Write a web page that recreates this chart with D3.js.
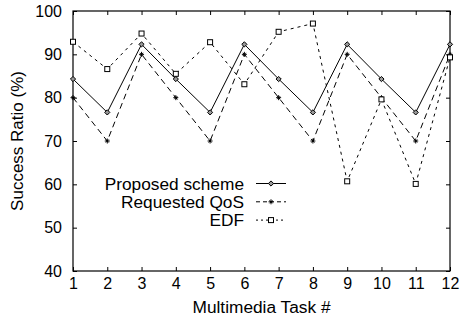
<!DOCTYPE html>
<html><head><meta charset="utf-8">
<script src="https://cdn.jsdelivr.net/npm/d3@7"></script>
<style>body{margin:0;background:#fff}svg{display:block}text{font-family:"Liberation Sans",Arial,sans-serif;fill:#000}</style>
</head><body>
<svg id="c" width="461" height="320"></svg>
<script>
const tasks = [1,2,3,4,5,6,7,8,9,10,11,12];
const proposed = [84.3,76.6,92.3,84.3,76.6,92.3,84.3,76.6,92.3,84.3,76.6,92.3];
const requested = [80,70,90,80,70,90,80,70,90,80,70,90];
const edf = [92.9,86.6,94.8,85.5,92.8,83.1,95.2,97.1,60.7,79.6,60.1,89.3];
const yTicks = [40,50,60,70,80,90,100];
const seriesNames = ["Proposed scheme","Requested QoS","EDF"];

const svg = d3.select("#c");
const L=73, R=450, T=11, B=271;
const x = d3.scaleLinear().domain([1,12]).range([L,R]);
const y = d3.scaleLinear().domain([40,100]).range([B,T]);

const g = svg.append("g");
const ax = (a)=>a.tickSizeInner(-4).tickSizeOuter(0).tickPadding(7);
g.append("g").attr("transform",`translate(0,${B})`).call(ax(d3.axisBottom(x).tickValues(tasks).tickFormat(d3.format("d"))));
g.append("g").attr("transform",`translate(0,${T})`).call(ax(d3.axisTop(x).tickValues(tasks)).tickFormat(""));
g.append("g").attr("transform",`translate(${L},0)`).call(ax(d3.axisLeft(y).tickValues(yTicks).tickFormat(d3.format("d"))).tickPadding(11));
g.append("g").attr("transform",`translate(${R},0)`).call(ax(d3.axisRight(y).tickValues(yTicks)).tickFormat(""));
g.selectAll(".domain").remove();
g.selectAll(".tick line").attr("stroke","#000");
g.selectAll(".tick text").style("font-size","16px").style("font-family",'"Liberation Sans",Arial,sans-serif');
svg.append("rect").attr("x",L).attr("y",T).attr("width",R-L).attr("height",B-T).attr("fill","none").attr("stroke","#000").attr("stroke-width",1.2);

const line = d3.line().x((d,i)=>x(tasks[i])).y(d=>y(d));
const styles = [
  {data:proposed, dash:null, mark:"diamond"},
  {data:requested, dash:"6,4", mark:"plus"},
  {data:edf, dash:"3,4", mark:"square"}
];
function marker(sel, type){
  if(type==="diamond") sel.append("path").attr("d","M0,-2.6L2.6,0L0,2.6L-2.6,0Z").attr("fill","#999").attr("stroke","#000").attr("stroke-width",1);
  else if(type==="plus") sel.append("path").attr("d","M-2.5,0H2.5M0,-2.5V2.5M-1.5,-1.5L1.5,1.5M-1.5,1.5L1.5,-1.5").attr("stroke","#000").attr("stroke-width",1);
  else sel.append("rect").attr("x",-2.5).attr("y",-2.5).attr("width",5).attr("height",5).attr("fill","#fff").attr("stroke","#000").attr("stroke-width",1);
}
styles.forEach(s=>{
  svg.append("path").datum(s.data).attr("d",line).attr("fill","none").attr("stroke","#000").attr("stroke-width",1).attr("stroke-dasharray",s.dash);
});
styles.forEach(s=>{
  svg.append("g").selectAll("g").data(s.data).join("g")
    .attr("transform",(d,i)=>`translate(${x(tasks[i])},${y(d)})`)
    .each(function(){marker(d3.select(this),s.mark);});
});

const lg = svg.append("g");
const legDash = [null,"4,3","2,3"];
seriesNames.forEach((n,i)=>{
  const yy = 183.5 + i*18.3;
  lg.append("text").attr("x",244).attr("y",yy).attr("dy","0.35em").attr("text-anchor","end").style("font-size","17.3px").text(n);
  lg.append("line").attr("x1",256).attr("x2",286).attr("y1",yy).attr("y2",yy).attr("stroke","#000").attr("stroke-dasharray",legDash[i]);
  const m = lg.append("g").attr("transform",`translate(271,${yy})`);
  marker(m, styles[i].mark);
});

svg.append("text").attr("x",(L+R)/2).attr("y",313).attr("text-anchor","middle").style("font-size","17.3px").text("Multimedia Task #");
svg.append("text").attr("transform",`translate(23,${(T+B)/2}) rotate(-90)`).attr("text-anchor","middle").style("font-size","17px").text("Success Ratio (%)");
</script>
</body></html>
